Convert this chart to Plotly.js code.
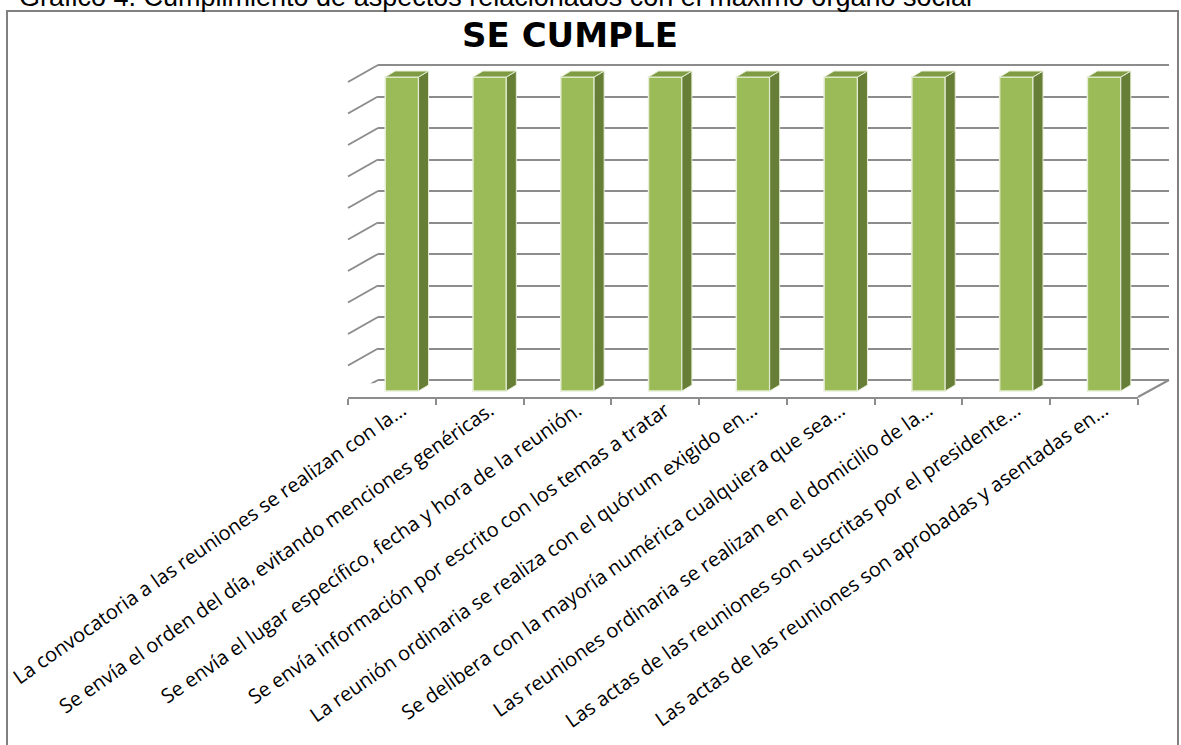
<!DOCTYPE html>
<html>
<head>
<meta charset="utf-8">
<script src="https://cdn.plot.ly/plotly-3.0.1.min.js"></script>
<style>html,body{margin:0;padding:0;background:#fff;}#chart{width:1181px;height:745px;}</style>
</head>
<body>
<div id="chart"></div>
<script>
// ---- data ----
const categories = [
  "La convocatoria a las reuniones se realizan con la…",
  "Se envía el orden del día, evitando menciones genéricas.",
  "Se envía el lugar específico, fecha y hora de la reunión.",
  "Se envía información por escrito con los temas a tratar",
  "La reunión ordinaria se realiza con el quórum exigido en…",
  "Se delibera con la mayoría numérica cualquiera que sea…",
  "Las reuniones ordinaria se realizan en el domicilio de la…",
  "Las actas de las reuniones son suscritas por el presidente…",
  "Las actas de las reuniones son aprobadas y asentadas en…"
];
const values = [100, 100, 100, 100, 100, 100, 100, 100, 100];
const gridTicks = [0, 10, 20, 30, 40, 50, 60, 70, 80, 90, 100];
const chartTitle = "SE CUMPLE";
const caption = "Gráfico 4. Cumplimiento de aspectos relacionados con el máximo órgano social";

// ---- geometry helpers (pixels -> paper) ----
const W = 1181, H = 745;
const px = x => x / W;
const py = y => 1 - y / H;

const barWidth = 0.38;
// bar plane: value 0 at y=391px, value 100 at y=77px
const unitPx = (391 - 77) / 100;
const y2Max = 108;
const catPx = (1148 - 358) / categories.length;
const dxu = 10 / catPx;   // depth offset ~10px right
const dyu = 6 / unitPx;   // depth offset ~6px up

// back wall: value 0 at 380px, 100 at 65px; pad range so edge gridlines are drawn
const backUnitPx = (380 - 65) / 100;
const pad = 1.0;

const shapes = [];
// outer border
shapes.push({type:'rect', xref:'paper', yref:'paper', x0:px(7), x1:px(1178), y0:-0.05, y1:py(11),
  line:{color:'#808080', width:2}, fillcolor:'rgba(0,0,0,0)', layer:'below'});
// side wall lines (one per gridline)
const wallDepthUnits = 17 / backUnitPx;
gridTicks.forEach(t => {
  shapes.push({type:'line', xref:'paper', yref:'y', x0:px(378), x1:px(348), y0:t, y1:t - wallDepthUnits,
    line:{color:'#8c8c8c', width:2}, layer:'below'});
});
// floor right edge
shapes.push({type:'line', xref:'paper', yref:'paper', x0:px(1138), y0:py(397), x1:px(1169), y1:py(380),
  line:{color:'#8c8c8c', width:2}, layer:'below'});

// bar 3D faces (side + top) computed from data
values.forEach((v, i) => {
  const xl = i - barWidth / 2, xr = i + barWidth / 2;
  shapes.push({type:'path', xref:'x2', yref:'y2',
    path:`M ${xr} 0 L ${xr + dxu} ${dyu} L ${xr + dxu} ${v + dyu} L ${xr} ${v} Z`,
    fillcolor:'#677e37', line:{color:'#e6eed6', width:1}, layer:'above'});
  shapes.push({type:'path', xref:'x2', yref:'y2',
    path:`M ${xl} ${v} L ${xr} ${v} L ${xr + dxu} ${v + dyu} L ${xl + dxu} ${v + dyu} Z`,
    fillcolor:'#7f9c45', line:{color:'#e6eed6', width:1}, layer:'above'});
});

const traces = [
  { type:'bar', x: categories, y: values, xaxis:'x2', yaxis:'y2', width: barWidth,
    marker:{color:'#9bbb59', line:{color:'#e6eed6', width:1.5}}, hoverinfo:'skip', showlegend:false },
  { type:'scatter', x: categories, y: values.map(() => 0), xaxis:'x3', yaxis:'y3', mode:'markers',
    marker:{opacity:0}, hoverinfo:'skip', showlegend:false },
  { type:'scatter', x: categories, y: values, xaxis:'x', yaxis:'y', mode:'markers',
    marker:{opacity:0}, hoverinfo:'skip', showlegend:false }
];

const layout = {
  width: W, height: H,
  margin:{l:0, r:0, t:0, b:0},
  paper_bgcolor:'#ffffff', plot_bgcolor:'rgba(0,0,0,0)',
  showlegend:false,
  title:{text:'<b>' + chartTitle + '</b>', font:{family:'DejaVu Sans', size:34, color:'#000'},
    x:px(570), xanchor:'center', xref:'paper', y:py(35), yanchor:'middle'},
  xaxis:{domain:[px(378), px(1169)], type:'category', range:[-0.5, categories.length - 0.5],
    showgrid:false, showticklabels:false, ticks:'', showline:false, zeroline:false, anchor:'y', fixedrange:true},
  yaxis:{domain:[py(380 + pad * backUnitPx), py(65 - pad * backUnitPx)], range:[-pad, 100 + pad], tickvals: gridTicks,
    showgrid:true, gridcolor:'#8c8c8c', gridwidth:2,
    showticklabels:false, ticks:'', showline:false, zeroline:false, anchor:'x', fixedrange:true},
  xaxis2:{domain:[px(358), px(1148)], type:'category', range:[-0.5, categories.length - 0.5],
    showgrid:false, showticklabels:false, ticks:'', showline:false, zeroline:false, anchor:'y2', fixedrange:true},
  yaxis2:{domain:[py(391 + 2 * unitPx), py(391 - y2Max * unitPx)], range:[-2, y2Max], showgrid:false, showticklabels:false, ticks:'',
    showline:false, zeroline:false, anchor:'x2', fixedrange:true},
  xaxis3:{domain:[px(348), px(1138)], type:'category', range:[-0.5, categories.length - 0.5],
    showgrid:false, showline:true, linecolor:'#8c8c8c', linewidth:2, zeroline:false,
    ticks:'outside', tickson:'boundaries', ticklen:6, tickwidth:2, tickcolor:'#8c8c8c',
    tickangle:-35, ticklabelshift:10, ticklabelstandoff:-8, automargin:false,
    tickfont:{family:'Open Sans', size:20, color:'#000'}, anchor:'y3', fixedrange:true},
  yaxis3:{domain:[py(397), py(100)], range:[0, 100], showgrid:false, showticklabels:false, ticks:'',
    showline:false, zeroline:false, anchor:'x3', fixedrange:true},
  shapes: shapes,
  annotations:[{text: caption, xref:'paper', yref:'paper', x:px(17), xanchor:'left',
    y:py(14), yanchor:'bottom', showarrow:false, font:{family:'Liberation Sans', size:27, color:'#000'}}]
};

Plotly.newPlot('chart', traces, layout, {displayModeBar:false, staticPlot:true});
</script>
</body>
</html>
